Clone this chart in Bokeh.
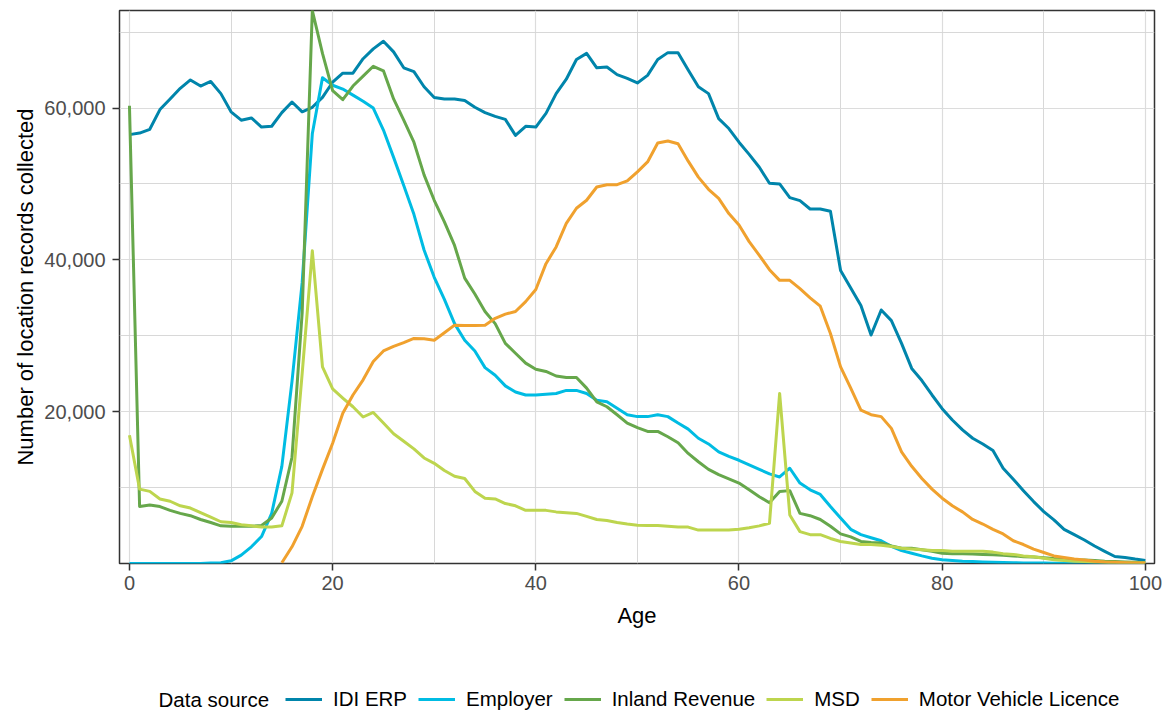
from bokeh.plotting import figure
from bokeh.layouts import column
from bokeh.models import (Range1d, FixedTicker, NumeralTickFormatter, Legend, LegendItem, Label)
from bokeh.embed import file_html
from bokeh.resources import INLINE

ages = list(range(0, 101))

idi_erp = [56500, 56700, 57200, 59800, 61200, 62600, 63700, 62900, 63500, 61900,
           59500, 58400, 58700, 57500, 57600, 59400, 60800, 59500, 60100, 61400,
           63400, 64600, 64600, 66500, 67800, 68800, 67400, 65300, 64800, 62800,
           61400, 61200, 61200, 61000, 60100, 59400, 58900, 58500, 56400, 57600,
           57500, 59300, 61900, 63800, 66400, 67200, 65300, 65400, 64400, 63900,
           63300, 64300, 66400, 67300, 67300, 65000, 62800, 61900, 58600, 57300,
           55500, 53900, 52200, 50100, 50000, 48200, 47800, 46700, 46700, 46400,
           38600, 36300, 34000, 30100, 33400, 32000, 29000, 25700, 24100, 22200,
           20400, 18900, 17600, 16500, 15750, 14900, 12550, 11100, 9600, 8160,
           6840, 5750, 4500, 3800, 3100, 2300, 1600, 920, 800, 580, 400]

employer = [0, 0, 0, 0, 0, 0, 0, 0, 50, 100,
            350, 1100, 2200, 3550, 6600, 12800, 24000, 37000, 56600, 64000,
            63000, 62500, 61700, 60900, 60000, 57100, 53500, 49800, 46000, 41300,
            37700, 34800, 31600, 29400, 28000, 25800, 24800, 23400, 22600, 22200,
            22200, 22300, 22400, 22800, 22800, 22400, 21500, 21300, 20450, 19600,
            19350, 19350, 19600, 19350, 18500, 17700, 16500, 15750, 14700, 14100,
            13600, 13000, 12400, 11800, 11400, 12550, 10600, 9700, 9100, 7500,
            6000, 4500, 3800, 3400, 3000, 2250, 1700, 1350, 1000, 700,
            500, 400, 300, 250, 200, 150, 120, 100, 80, 60,
            50, 40, 30, 25, 20, 15, 10, 10, 5, 5, 5]

inland_revenue = [60300, 7500, 7700, 7500, 7000, 6600, 6300, 5800, 5400, 4960,
                  4900, 4900, 4900, 5000, 6000, 8200, 14000, 33000, 72850, 67200,
                  62300, 61100, 62900, 64200, 65500, 64900, 61200, 58400, 55500, 51200,
                  47850, 45000, 41900, 37600, 35500, 33200, 31600, 29000, 27700, 26400,
                  25600, 25300, 24700, 24500, 24500, 23100, 21300, 20650, 19600, 18500,
                  17900, 17400, 17400, 16700, 15900, 14500, 13400, 12400, 11700, 11150,
                  10600, 9700, 8800, 8000, 9500, 9600, 6600, 6300, 5800, 4900,
                  3900, 3500, 2900, 2760, 2700, 2300, 2000, 2000, 1800, 1600,
                  1350, 1300, 1300, 1250, 1200, 1150, 1100, 1000, 900, 850,
                  750, 650, 600, 500, 450, 400, 300, 250, 200, 150, 100]

msd = [16900, 9800, 9500, 8500, 8200, 7600, 7300, 6700, 6100, 5500,
       5400, 5100, 4960, 4800, 4800, 4960, 9300, 25000, 41200, 25900,
       23000, 21800, 20650, 19300, 19900, 18500, 17100, 16100, 15100, 13900,
       13200, 12250, 11500, 11200, 9500, 8600, 8500, 7900, 7600, 7000,
       7000, 7000, 6800, 6700, 6600, 6200, 5800, 5660, 5400, 5200,
       5050, 5000, 5000, 4900, 4800, 4800, 4400, 4400, 4400, 4400,
       4500, 4700, 4960, 5300, 22400, 6400, 4200, 3800, 3800, 3300,
       2900, 2700, 2500, 2500, 2400, 2250, 2000, 1900, 1800, 1700,
       1700, 1600, 1600, 1600, 1600, 1500, 1300, 1200, 1000, 900,
       700, 500, 400, 300, 250, 200, 150, 100, 80, 60, 50]

mvl_ages = list(range(15, 101))
motor_vehicle = [100, 2200, 4900, 8800, 12400,
                 15850, 19800, 22200, 24200, 26600, 28000, 28600, 29100, 29650, 29600,
                 29400, 30400, 31400, 31350, 31350, 31400, 32300, 32850, 33200, 34500,
                 36100, 39500, 41700, 44800, 46800, 47850, 49600, 49900, 49900, 50400,
                 51600, 52900, 55400, 55650, 55300, 53000, 50900, 49300, 48100, 46100,
                 44600, 42400, 40600, 38700, 37300, 37300, 36200, 35000, 33900, 30300,
                 25900, 23100, 20200, 19600, 19350, 17800, 14700, 12800, 11200, 9800,
                 8600, 7600, 6800, 5800, 5200, 4500, 3900, 3000, 2500, 1900,
                 1450, 1000, 800, 600, 450, 300, 200, 150, 100, 50, 50]

series_names = ["IDI ERP", "Employer", "Inland Revenue", "MSD", "Motor Vehicle Licence"]
colors = ["#0085AB", "#00BCE3", "#66A74B", "#BDD54E", "#F0A12E"]
series_x = [ages, ages, ages, ages, mvl_ages]
series_y = [idi_erp, employer, inland_revenue, msd, motor_vehicle]

x_ticks = [0, 20, 40, 60, 80, 100]
x_minor = [10, 30, 50, 70, 90]
y_ticks = [20000, 40000, 60000]
y_minor = [10000, 30000, 50000, 70000]

FONT = "Liberation Sans"

p = figure(width=1168, height=640, output_backend="svg", toolbar_location=None,
           x_range=Range1d(-0.98, 100.9), y_range=Range1d(0, 72850),
           min_border_left=119, min_border_top=10, min_border_right=14, min_border_bottom=77)

p.background_fill_color = "white"
p.outline_line_color = "#333333"
p.outline_line_width = 1.5

for ax in (p.xaxis[0], p.yaxis[0]):
    ax.axis_line_color = None
    ax.major_tick_line_color = "#333333"
    ax.major_tick_line_width = 1.5
    ax.major_tick_out = 7
    ax.major_tick_in = 0
    ax.minor_tick_line_color = None
    ax.major_label_text_font = FONT
    ax.major_label_text_font_size = "20px"
    ax.major_label_text_color = "#4D4D4D"
    ax.axis_label_text_font = FONT
    ax.axis_label_text_font_size = "22px"
    ax.axis_label_text_font_style = "normal"
    ax.axis_label_text_color = "#000000"

p.xaxis[0].ticker = FixedTicker(ticks=x_ticks, minor_ticks=x_minor)
p.yaxis[0].ticker = FixedTicker(ticks=y_ticks, minor_ticks=y_minor)
p.yaxis[0].formatter = NumeralTickFormatter(format="0,0")
p.xaxis[0].axis_label = "Age"
p.yaxis[0].axis_label = "Number of location records collected"
p.xaxis[0].major_label_standoff = 5
p.yaxis[0].major_label_standoff = 7
p.xaxis[0].axis_label_standoff = 10
p.yaxis[0].axis_label_standoff = 3

for g in (p.xgrid[0], p.ygrid[0]):
    g.grid_line_color = "#DCDCDC"
    g.grid_line_width = 1.2
    g.minor_grid_line_color = "#D4D4D4"
    g.minor_grid_line_width = 0.9

for xs, ys, col in zip(series_x, series_y, colors):
    p.line(xs, ys, line_color=col, line_width=3, line_join="round")

# legend strip below the plot (its frame is aligned with the main frame)
lf = figure(width=1168, height=75, output_backend="svg", toolbar_location=None,
            x_axis_type=None, y_axis_type=None, x_range=Range1d(0, 1), y_range=Range1d(-2, -1),
            min_border_left=0, min_border_right=0, min_border_top=0, min_border_bottom=0)
lf.outline_line_color = None
lf.xgrid.visible = False
lf.ygrid.visible = False
key_renderers = [lf.line(xs, ys, line_color=c, line_width=3)
                 for xs, ys, c in zip(series_x, series_y, colors)]
items = [LegendItem(label=n, renderers=[rr]) for n, rr in zip(series_names, key_renderers)]
legend = Legend(items=items, orientation="horizontal", location=(166, 4),
                glyph_width=37, glyph_height=24, label_height=24, label_standoff=11,
                spacing=11, padding=0, margin=0, border_line_color=None,
                background_fill_alpha=0, label_text_font=FONT,
                label_text_font_size="20.5px", label_text_color="#000000")
lf.add_layout(legend, "center")
lf.add_layout(Label(x=39, y=16, x_units="screen", y_units="screen", text="Data source",
                    text_font=FONT, text_font_size="20.5px", text_color="#000000",
                    text_baseline="middle", text_align="left"))

layout = column(p, lf, spacing=0)
open("out.html", "w").write(file_html(layout, INLINE))
